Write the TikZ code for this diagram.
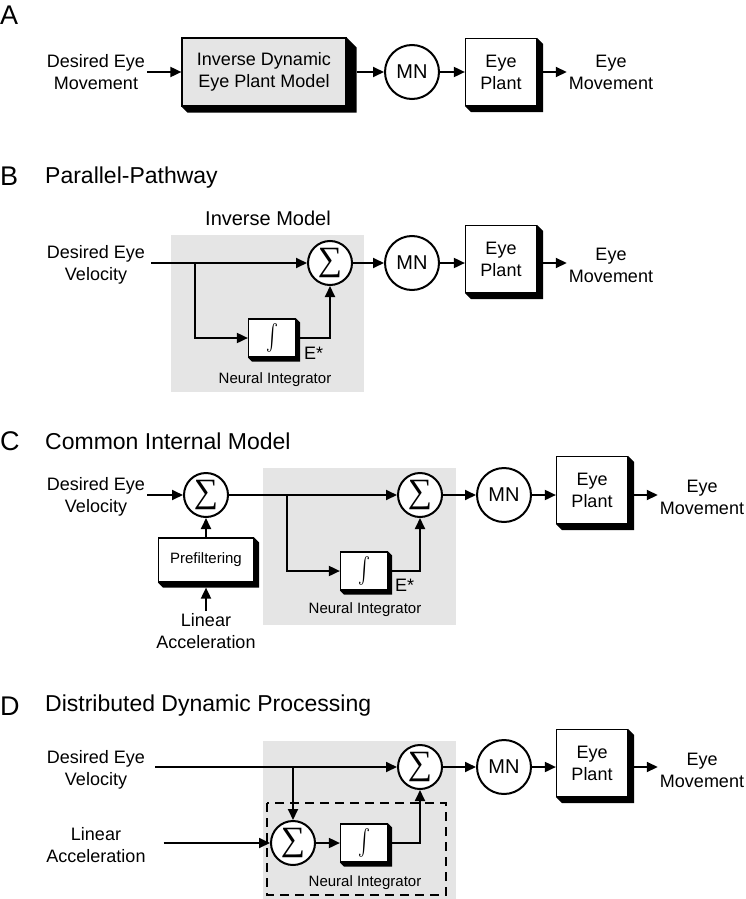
\documentclass[tikz,border=0pt]{standalone}
\usepackage{fontspec}
\setmainfont{Liberation Sans}
\newfontfamily\symfont{Liberation Serif}
\usetikzlibrary{arrows.meta}
\newcommand{\shd}[3]{\fill (#1.north east) -- ++(#2,#2) -- ([shift={(#2,#3)}]#1.south east) -- ([shift={(#3,#3)}]#1.south west) -- (#1.south west) -- (#1.south east) -- cycle;}
\newcommand{\sumsym}{{\symfont\fontsize{34}{34}\selectfont ∑}}
\newcommand{\intsym}{\scalebox{1.8}[2.6]{$\int$}}
\tikzset{
  sig/.style={line width=1.8pt,-{Triangle[length=11pt,width=10pt]}},
  lbl/.style={font=\fontsize{18}{22}\selectfont,align=center,inner sep=2pt},
  sml/.style={font=\fontsize{15}{17}\selectfont,inner sep=1pt},
  ttl/.style={font=\fontsize{23}{26}\selectfont,anchor=west,inner sep=0pt},
  pnl/.style={font=\fontsize{27}{30}\selectfont,anchor=west,inner sep=0pt},
  sumnode/.style={circle,draw,line width=2pt,fill=white,minimum size=44pt,inner sep=0pt},
  mnnode/.style={circle,draw,line width=2pt,fill=white,minimum size=54pt,inner sep=0pt,font=\fontsize{20}{20}\selectfont},
  blk/.style={draw,fill=white,line width=1.2pt,inner sep=0pt,align=center,font=\fontsize{18}{22}\selectfont},
  plant/.style={blk,minimum width=71pt,minimum height=67pt},
  intbox/.style={blk,minimum width=47pt,minimum height=38pt},
  bg/.style={fill=black!10}
}
\begin{document}
\begin{tikzpicture}[x=1pt,y=-1pt]
\useasboundingbox (0,0) rectangle (746,899);
% A
\node[pnl] (pA) at (0,15) {A};
\node[lbl] (inA) at (96,72) {Desired Eye\\Movement};
\node[blk,fill=black!10,minimum width=164pt,minimum height=68pt] (invA) at (264,72) {Inverse Dynamic\\Eye Plant Model};
\shd{invA}{10}{6}
\node[mnnode] (mA) at (412,72) {MN};
\node[plant] (plA) at (501,72) {Eye\\Plant};
\shd{plA}{6}{6}
\node[lbl] (outA) at (611,72) {Eye\\Movement};
\draw[sig] (inA) -- (invA);
\draw[sig] ([xshift=10pt]invA.east) -- (mA);
\draw[sig] (mA) -- (plA);
\draw[sig] ([xshift=6pt]plA.east) -- (outA);
% B
\node[pnl] (pB) at (0,176) {B};
\node[ttl] (tB) at (45,178) {Parallel-Pathway};
\fill[bg] (171,235) rectangle (364,392);
\node[font=\fontsize{20}{24}\selectfont,inner sep=0pt] (imB) at (268,218) {Inverse Model};
\node[lbl] (inB) at (96,265) {Desired Eye\\Velocity};
\node[sumnode] (sB) at (330,263) {\sumsym};
\node[intbox] (iB) at (272,338) {\intsym};
\shd{iB}{4}{4}
\node[lbl,anchor=west] (eB) at (302,353) {E*};
\node[sml] (niB) at (275,380) {Neural Integrator};
\node[mnnode] (mB) at (412,263) {MN};
\node[plant] (plB) at (501,259) {Eye\\Plant};
\shd{plB}{6}{6}
\node[lbl] (outB) at (611,265) {Eye\\Movement};
\coordinate (brB) at (195,263);
\draw[sig] ([xshift=4pt]inB.east |- sB) -- (sB);
\draw[sig] (brB) |- (iB);
\draw[sig] ([xshift=4pt]iB.east) -| (sB);
\draw[sig] (sB) -- (mB);
\draw[sig] (mB) -- (mB -| plB.west);
\draw[sig] ([xshift=6pt]plB.east |- mB) -- (outB.west |- mB);
% C
\node[pnl] (pC) at (0,441) {C};
\node[ttl] (tC) at (45,441) {Common Internal Model};
\fill[bg] (263,468) rectangle (456,625);
\node[lbl] (inC) at (96,497) {Desired Eye\\Velocity};
\node[sumnode] (s1C) at (206,495) {\sumsym};
\node[blk,minimum width=95pt,minimum height=44pt,font=\fontsize{15}{17}\selectfont] (prC) at (206,560) {Prefiltering};
\shd{prC}{5}{5}
\node[lbl] (laC) at (206,631) {Linear\\Acceleration};
\node[sumnode] (s2C) at (420,495) {\sumsym};
\node[intbox] (iC) at (364,571) {\intsym};
\shd{iC}{4}{4}
\node[lbl,anchor=west] (eC) at (393,585) {E*};
\node[sml] (niC) at (365,610) {Neural Integrator};
\node[mnnode] (mC) at (504,495) {MN};
\node[plant] (plC) at (592,490) {Eye\\Plant};
\shd{plC}{6}{6}
\node[lbl] (outC) at (702,497) {Eye\\Movement};
\coordinate (brC) at (287,495);
\draw[sig] (inC.east |- s1C) -- (s1C);
\draw[sig] (laC) -- ([yshift=-5pt]prC.south);
\draw[sig] (prC) -- (s1C);
\draw[sig] (s1C) -- (s2C);
\draw[sig] (brC) |- (iC);
\draw[sig] ([xshift=4pt]iC.east) -| (s2C);
\draw[sig] (s2C) -- (mC);
\draw[sig] (mC) -- (mC -| plC.west);
\draw[sig] ([xshift=6pt]plC.east |- mC) -- (outC.west |- mC);
% D
\node[pnl] (pD) at (0,706) {D};
\node[ttl] (tD) at (45,706) {Distributed Dynamic Processing};
\fill[bg] (263,741) rectangle (456,899);
\draw[line width=1.8pt,dash pattern=on 9pt off 6pt] (267,803) rectangle (446,895);
\node[lbl] (inD) at (96,770) {Desired Eye\\Velocity};
\node[lbl] (laD) at (96,845) {Linear\\Acceleration};
\node[sumnode] (s2D) at (420,767) {\sumsym};
\node[sumnode] (s1D) at (293,843) {\sumsym};
\node[intbox] (iD) at (364,843) {\intsym};
\shd{iD}{4}{4}
\node[sml] (niD) at (365,883) {Neural Integrator};
\node[mnnode] (mD) at (504,767) {MN};
\node[plant] (plD) at (592,763) {Eye\\Plant};
\shd{plD}{6}{6}
\node[lbl] (outD) at (702,770) {Eye\\Movement};
\coordinate (brD) at (293,767);
\draw[sig] ([xshift=8pt]inD.east |- s2D) -- (s2D);
\draw[sig] (brD) -- (s1D);
\draw[sig] ([xshift=16pt]laD.east |- s1D) -- (s1D);
\draw[sig] (s1D) -- (iD);
\draw[sig] ([xshift=4pt]iD.east) -| (s2D);
\draw[sig] (s2D) -- (mD);
\draw[sig] (mD) -- (mD -| plD.west);
\draw[sig] ([xshift=6pt]plD.east |- mD) -- (outD.west |- mD);
\end{tikzpicture}
\end{document}
